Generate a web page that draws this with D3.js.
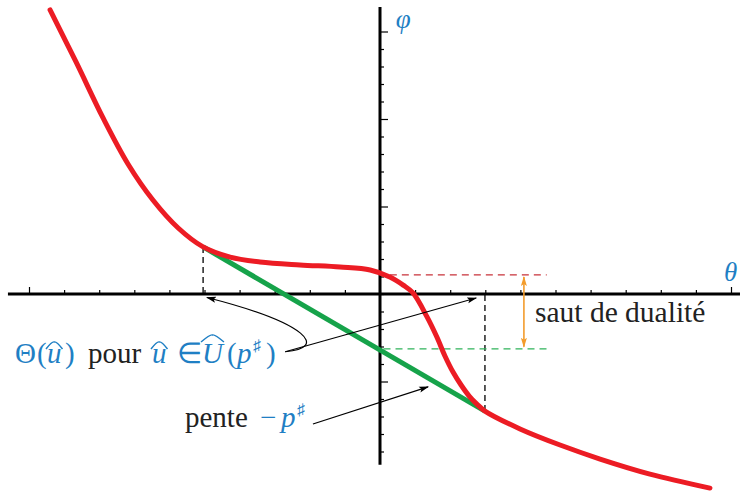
<!DOCTYPE html>
<html lang="fr">
<head>
    <meta charset="utf-8">
    <script type="text/javascript" src="https://cdn.jsdelivr.net/npm/d3@7"></script>
    <style>
        body { margin: 0; background: #fff; }
        text { font-family: "Liberation Serif", "Times New Roman", serif; }
    </style>
</head>
<body>
<script type="text/javascript">

    //Width and height
    let w = 740;
    let h = 492;

    //Red curve (theta, phi)
    let redTheta = [-9.40, -8.66, -7.89, -7.18, -6.47, -5.75, -5.04, -4.27, -3.42, -2.28, -1.14, -0.28,
        0.28, 0.66, 0.94, 1.34, 1.62, 1.85, 2.08, 2.31, 2.54, 2.76, 2.99, 3.99, 5.13, 6.27, 7.69, 9.40];
    let redPhi = [16.23, 13.26, 10.06, 7.43, 5.37, 3.77, 2.69, 2.11, 1.83, 1.66, 1.54, 1.37,
        0.97, 0.51, 0.06, -1.31, -2.46, -3.54, -4.46, -5.20, -5.83, -6.29, -6.69, -7.71, -8.63, -9.43, -10.29, -11.09];

    //Green chord (slope -p#)
    let chordTheta = [-5.04, 2.99];
    let chordPhi = [2.69, -6.69];

    //Duality gap levels
    let dualPhi = 1.09;
    let primalPhi = -3.14;
    let gapTheta = 4.1;
    let gapStart = [0.28, 0.1];
    let gapEnd = 4.75;

    //Ticks
    let thetaTicks = d3.range(-10, 11);
    let phiTicks = d3.range(-9, 16);

    let blue = "#1f7fc4";

    let x = d3.scaleLinear().domain([0, 10]).range([380, 731]);
    let y = d3.scaleLinear().domain([0, 10]).range([294, 119]);

    let svg = d3.select("body")
        .append("svg")
        .attr("width", w)
        .attr("height", h);

    let defs = svg.append("defs");
    function marker(id, color) {
        defs.append("marker")
            .attr("id", id)
            .attr("viewBox", "0 -4 10 8")
            .attr("refX", 9)
            .attr("refY", 0)
            .attr("markerWidth", 10)
            .attr("markerHeight", 8)
            .attr("markerUnits", "userSpaceOnUse")
            .attr("orient", "auto-start-reverse")
            .append("path")
            .attr("d", "M0,-3L10,0L0,3L2,0Z")
            .attr("fill", color);
    }
    marker("arr", "#000");
    marker("arrO", "#f39c2c");

    //Axes
    let xAxis = d3.axisTop(x).tickValues(thetaTicks)
        .tickSize(4).tickSizeOuter(0).tickFormat("");
    let gx = svg.append("g").attr("transform", "translate(0," + y(0) + ")").call(xAxis);
    gx.select(".domain").remove();
    gx.selectAll(".tick line").attr("stroke-width", 1.2)
        .attr("y2", d => Math.abs(d) === 10 ? -7 : -4);

    let yAxis = d3.axisRight(y).tickValues(phiTicks)
        .tickSize(4).tickSizeOuter(0).tickFormat("");
    let gy = svg.append("g").attr("transform", "translate(" + x(0) + ",0)").call(yAxis);
    gy.select(".domain").remove();
    gy.selectAll(".tick line").attr("stroke-width", 1.2)
        .attr("x2", d => d % 5 === 0 && d !== 0 ? 8 : 4);

    svg.append("line")
        .attr("x1", x(-10.6)).attr("x2", x(10.3))
        .attr("y1", y(0)).attr("y2", y(0))
        .attr("stroke", "#000").attr("stroke-width", 3);
    svg.append("line")
        .attr("x1", x(0)).attr("x2", x(0))
        .attr("y1", y(16.4)).attr("y2", y(-9.75))
        .attr("stroke", "#000").attr("stroke-width", 3);

    //Dashed guides
    chordTheta.forEach((t, i) => {
        svg.append("line")
            .attr("x1", x(t)).attr("x2", x(t))
            .attr("y1", y(chordPhi[i])).attr("y2", y(0))
            .attr("stroke", "#000").attr("stroke-width", 1.3)
            .attr("stroke-dasharray", "6,4");
    });
    [[dualPhi, "#c8323a", gapStart[0]], [primalPhi, "#2fb35a", gapStart[1]]].forEach(d => {
        svg.append("line")
            .attr("x1", x(d[2])).attr("x2", x(gapEnd))
            .attr("y1", y(d[0])).attr("y2", y(d[0]))
            .attr("stroke", d[1]).attr("stroke-width", 1.3)
            .attr("stroke-dasharray", "7,5");
    });

    //Gap arrow
    svg.append("line")
        .attr("x1", x(gapTheta)).attr("x2", x(gapTheta))
        .attr("y1", y(dualPhi - 0.12)).attr("y2", y(primalPhi + 0.12))
        .attr("stroke", "#f39c2c").attr("stroke-width", 1.6)
        .attr("marker-start", "url(#arrO)").attr("marker-end", "url(#arrO)");

    //Chord
    svg.append("line")
        .attr("x1", x(chordTheta[0])).attr("x2", x(chordTheta[1]))
        .attr("y1", y(chordPhi[0])).attr("y2", y(chordPhi[1]))
        .attr("stroke", "#16a34a").attr("stroke-width", 5);

    //Red curve
    let line = d3.line().x(d => x(d[0])).y(d => y(d[1])).curve(d3.curveCatmullRom.alpha(0.5));
    svg.append("path")
        .datum(d3.zip(redTheta, redPhi))
        .attr("d", line)
        .attr("fill", "none")
        .attr("stroke", "#ec1c24")
        .attr("stroke-width", 5)
        .attr("stroke-linecap", "round");

    //Annotation arrows
    let labelAnchor = [-2.7, -3.3];
    let p = d3.path();
    p.moveTo(x(labelAnchor[0]), y(labelAnchor[1]));
    p.bezierCurveTo(x(-1.5), y(-3.1), x(-2.0), y(-1.7), x(-4.93), y(-0.2));
    svg.append("path").attr("d", p.toString())
        .attr("fill", "none").attr("stroke", "#000").attr("stroke-width", 1.2)
        .attr("marker-end", "url(#arr)");
    svg.append("line")
        .attr("x1", x(labelAnchor[0])).attr("y1", y(labelAnchor[1]))
        .attr("x2", x(2.74)).attr("y2", y(-0.23))
        .attr("stroke", "#000").attr("stroke-width", 1.2)
        .attr("marker-end", "url(#arr)");
    svg.append("line")
        .attr("x1", x(-1.91)).attr("y1", y(-7.43))
        .attr("x2", x(1.37)).attr("y2", y(-5.31))
        .attr("stroke", "#000").attr("stroke-width", 1.2)
        .attr("marker-end", "url(#arr)");

    //Axis labels
    svg.append("text").attr("x", x(0.45)).attr("y", y(15.2))
        .attr("font-size", 27).attr("font-style", "italic").attr("fill", blue).text("φ");
    svg.append("text").attr("x", x(9.8)).attr("y", y(0.75))
        .attr("font-size", 27).attr("font-style", "italic").attr("fill", blue).text("θ");

    svg.append("text").attr("x", 535).attr("y", 322)
        .attr("font-size", 29.5).attr("fill", "#222").text("saut de dualité");

    //Theta label
    let fs = 29;
    let t1 = svg.append("text").attr("y", 363).attr("font-size", fs).attr("fill", blue);
    t1.append("tspan").attr("x", 15).text("Θ");
    t1.append("tspan").attr("x", 37).text("(");
    t1.append("tspan").attr("x", 47).attr("font-style", "italic").text("u");
    t1.append("tspan").attr("x", 65).text(")");
    svg.append("text").attr("x", 88).attr("y", 363).attr("font-size", fs).attr("fill", "#222").text("pour");
    let t2 = svg.append("text").attr("y", 363).attr("font-size", fs).attr("fill", blue);
    t2.append("tspan").attr("x", 152).attr("font-style", "italic").text("u");
    t2.append("tspan").attr("x", 177).text("∈");
    t2.append("tspan").attr("x", 202).attr("font-style", "italic").text("U");
    t2.append("tspan").attr("x", 227).text("(");
    t2.append("tspan").attr("x", 237).attr("font-style", "italic").text("p");
    t2.append("tspan").attr("x", 253).attr("font-size", 16).attr("dy", -12).text("♯");
    t2.append("tspan").attr("x", 266).attr("dy", 12).text(")");

    svg.append("text").attr("x", 185).attr("y", 427).attr("font-size", fs).attr("fill", "#222").text("pente");
    let t3 = svg.append("text").attr("y", 427).attr("font-size", fs).attr("fill", blue);
    t3.append("tspan").attr("x", 260).text("−");
    t3.append("tspan").attr("x", 281).attr("font-style", "italic").text("p");
    t3.append("tspan").attr("x", 297).attr("font-size", 16).attr("dy", -12).text("♯");

    //Wide hats over u, u, U
    function hat(textNode, idx, lift) {
        let e = textNode.node().getExtentOfChar(idx);
        let x0 = e.x - 1, x1 = e.x + e.width + 1, yb = e.y + lift;
        let hp = d3.path();
        hp.moveTo(x0, yb + 4);
        hp.quadraticCurveTo((x0 + x1) / 2 - 2, yb - 4, (x0 + x1) / 2, yb - 3);
        hp.quadraticCurveTo((x0 + x1) / 2 + 2, yb - 4, x1, yb + 4);
        svg.append("path").attr("d", hp.toString())
            .attr("fill", "none").attr("stroke", blue).attr("stroke-width", 1.5);
    }
    hat(t1, 2, 8);
    hat(t2, 0, 8);
    hat(t2, 2, 1);

</script>
</body>
</html>
